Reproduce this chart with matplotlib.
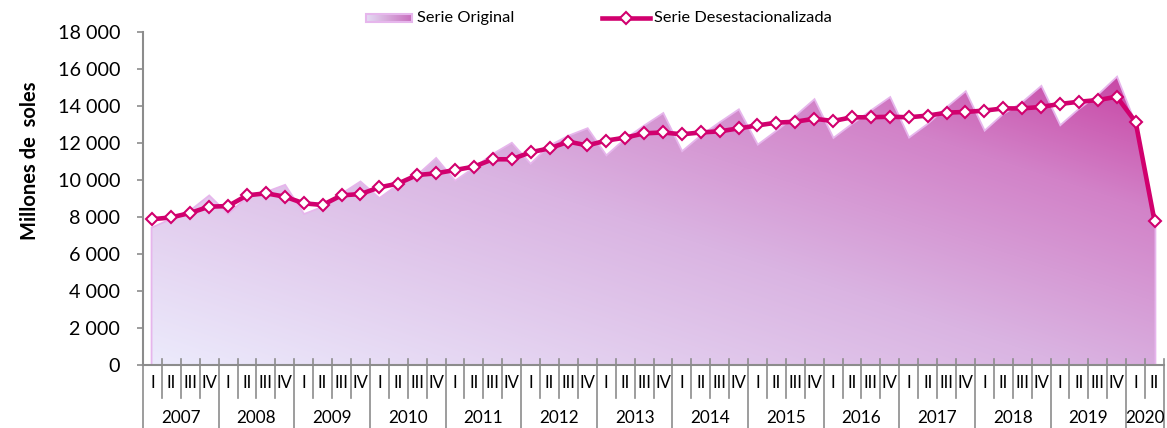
import numpy as np
import matplotlib
matplotlib.use("Agg")
import matplotlib.pyplot as plt
from matplotlib.lines import Line2D
from matplotlib.patches import Rectangle
import matplotlib.transforms as mtransforms

plt.rcParams['font.family'] = ['Lato', 'DejaVu Sans']

years = [str(y) for y in range(2007, 2021)]
quarters = ["I", "II", "III", "IV"]
quarters_per_year = [4] * 13 + [2]

serie_original = [
    7390, 7850, 8290, 9100,
    8100, 9000, 9300, 9680,
    8100, 8500, 9200, 9860,
    8960, 9700, 10200, 11120,
    9900, 10600, 11350, 11950,
    10810, 11800, 12340, 12740,
    11260, 12160, 12880, 13550,
    11480, 12340, 13060, 13750,
    11840, 12600, 13400, 14290,
    12200, 12970, 13700, 14410,
    12220, 12970, 13870, 14720,
    12590, 13510, 14140, 15010,
    12880, 13780, 14540, 15500,
    12900, 7600,
]

serie_desest = [
    7880, 7980, 8220, 8560,
    8590, 9170, 9280, 9100,
    8740, 8650, 9170, 9240,
    9600, 9810, 10270, 10360,
    10540, 10720, 11120, 11120,
    11500, 11710, 12070, 11870,
    12130, 12290, 12520, 12570,
    12470, 12570, 12630, 12790,
    12950, 13100, 13150, 13310,
    13190, 13390, 13390, 13420,
    13390, 13480, 13640, 13680,
    13750, 13870, 13870, 13950,
    14110, 14230, 14320, 14500,
    13140, 7780,
]

y_ticks = list(range(0, 18001, 2000))
y_label = "Millones de  soles"
legend_labels = ["Serie Original", "Serie Desestacionalizada"]

LINE_C = "#D1006E"
AXIS_C = "#8C8C8C"
EDGE_C = "#E6B6EC"

W, H = 1167, 428
fig = plt.figure(figsize=(W / 100, H / 100), dpi=100)
ax = fig.add_axes([143 / W, 1 - 365 / H, (1164 - 143) / W, 333 / H])

n = len(serie_original)
x = np.arange(n)
ax.set_xlim(-0.5, n - 0.5)
ax.set_ylim(0, 18000)

# gradient fill of the original series
stops_t = [0.0, 0.5, 0.8, 1.0]
stops_c = np.array([(236, 235, 252), (218, 180, 226), (210, 130, 200), (200, 72, 166)]) / 255.0
gx, gy = np.meshgrid(np.linspace(0, 1, 400), np.linspace(0, 1, 300))
t = np.clip(0.55 * gx + 0.55 * gy, 0, 1)
img = np.stack([np.interp(t, stops_t, stops_c[:, i]) for i in range(3)], axis=-1)

poly = ax.fill_between(x, 0, serie_original, facecolor="none", edgecolor="none")
ax.plot(np.r_[x[0], x, x[-1]], np.r_[0, serie_original, 0], color=EDGE_C, lw=2.6,
        solid_joinstyle="miter", zorder=1)
im = ax.imshow(img, extent=[-0.5, n - 0.5, 0, 18000], origin="lower", aspect="auto",
               interpolation="bilinear", zorder=2)
path = poly.get_paths()[0]
im.set_clip_path(path, transform=ax.transData)

# seasonally adjusted line
ax.plot(x, serie_desest, color=LINE_C, lw=3.3, marker="D", ms=5.8, mfc="white",
        mec=LINE_C, mew=1.5, zorder=4, solid_joinstyle="round")

# axes styling
for s in ["top", "right"]:
    ax.spines[s].set_visible(False)
for s in ["left", "bottom"]:
    ax.spines[s].set_color(AXIS_C)
    ax.spines[s].set_linewidth(1.5)
ax.set_yticks(y_ticks)
ax.set_yticklabels([f"{v:,}".replace(",", " ") for v in y_ticks])
ax.tick_params(axis="y", direction="out", length=4.5, width=1.2, color=AXIS_C,
               pad=12, labelsize=14.2, labelcolor="black")
ax.set_xticks([])

# two-level category axis
trans = mtransforms.blended_transform_factory(ax.transData, ax.transAxes)
pos = 0
for yr, nq in zip(years, quarters_per_year):
    for q in range(nq):
        k = pos + q
        ax.text(k, -0.055, quarters[q], transform=trans, ha="center", va="center",
                fontsize=12, clip_on=False)
        if q > 0:
            ax.add_line(Line2D([k - 0.5, k - 0.5], [0.018, -0.099], transform=trans,
                               color=AXIS_C, lw=1.2, clip_on=False))
    ax.add_line(Line2D([pos - 0.5, pos - 0.5], [0.018, -0.2], transform=trans,
                       color=AXIS_C, lw=1.2, clip_on=False))
    ax.text(pos + (nq - 1) / 2, -0.16, yr, transform=trans, ha="center", va="center",
            fontsize=12.3, clip_on=False)
    pos += nq
ax.add_line(Line2D([pos - 0.5, pos - 0.5], [0.018, -0.2], transform=trans,
                   color=AXIS_C, lw=1.2, clip_on=False))

fig.text(30 / W, 1 - 161 / H, y_label, rotation=90, ha="center", va="center",
         fontsize=14.5, fontweight="bold")

# legend
sw = fig.add_axes([366 / W, 1 - 22 / H, 46 / W, 8 / H])
lg = np.linspace(0, 1, 100)
lc = np.array([(228, 220, 244), (200, 110, 190)]) / 255.0
simg = np.stack([np.interp(lg, [0, 1], lc[:, i]) for i in range(3)], axis=-1)[None, :, :]
sw.imshow(simg, aspect="auto", extent=[0, 1, 0, 1])
sw.add_patch(Rectangle((0, 0), 1, 1, fill=False, edgecolor=EDGE_C, lw=1.5,
                       transform=sw.transAxes, clip_on=False))
sw.set_axis_off()
fig.text(417 / W, 1 - 18 / H, legend_labels[0], ha="left", va="center", fontsize=11.8)
fig.add_artist(Line2D([602 / W, 650 / W], [1 - 18 / H, 1 - 18 / H], color=LINE_C, lw=3.3,
                      transform=fig.transFigure))
fig.add_artist(Line2D([626 / W], [1 - 18 / H], marker="D", ms=5.8, mfc="white", mec=LINE_C,
                      mew=1.5, transform=fig.transFigure))
fig.text(654 / W, 1 - 18 / H, legend_labels[1], ha="left", va="center", fontsize=11.8)

fig.savefig("out.png", dpi=100)
